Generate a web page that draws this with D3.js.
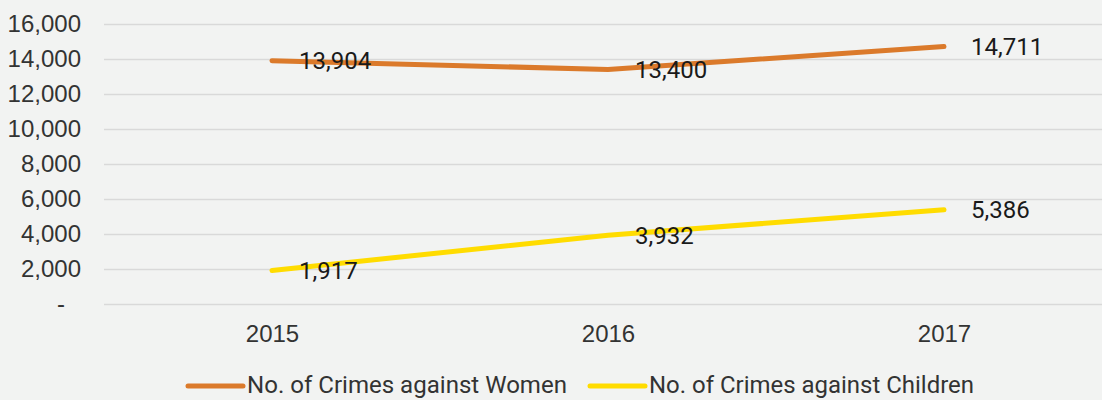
<!DOCTYPE html>
<html>
<head>
<meta charset="utf-8">
<script src="https://cdn.jsdelivr.net/npm/d3@7"></script>
<style>
  body { margin: 0; background: #f2f3f2; }
  svg { display: block; font-family: Roboto, "Noto Sans", sans-serif; }
</style>
</head>
<body>
<div id="chart-area"></div>
<script>
// data
var years = ["2015", "2016", "2017"];
var women = [13904, 13400, 14711];
var children = [1917, 3932, 5386];
var yTicks = [0, 2000, 4000, 6000, 8000, 10000, 12000, 14000, 16000];
var seriesNames = ["No. of Crimes against Women", "No. of Crimes against Children"];
var colors = ["#db7a2b", "#ffdc00"];

var W = 1102, H = 400;
var margin = {left: 104, right: -10, top: 24, bottom: 96},
	width = W - margin.left - margin.right,
	height = H - margin.top - margin.bottom;

var svg = d3.select("#chart-area")
	.append("svg")
		.attr("width", W)
		.attr("height", H);

svg.append("rect").attr("width", W).attr("height", H).attr("fill", "#f2f3f2");

var g = svg.append("g")
	.attr("transform", "translate(" + margin.left + "," + margin.top + ")");

//scales
var x = d3.scalePoint().domain(years).range([0, width]).padding(0.5);
var y = d3.scaleLinear().domain([0, 16000]).range([height, 0]);

var fmt = d3.format(",");

//gridlines + y labels
var yAxis = g.append("g")
	.call(d3.axisLeft(y).tickValues(yTicks).tickSize(-width)
		.tickFormat(d => d === 0 ? "-" : fmt(d)));
yAxis.select(".domain").remove();
yAxis.selectAll(".tick line").attr("stroke", "#d9d9d9").attr("stroke-width", 1.5);
yAxis.selectAll(".tick text")
	.attr("x", -23)
	.attr("fill", "#333")
	.style("font-size", "24px");
yAxis.selectAll(".tick text").filter(d => d === 0).attr("x", -39);

//x labels
var xAxis = g.append("g")
	.attr("transform", "translate(0," + height + ")")
	.call(d3.axisBottom(x).tickSize(0).tickPadding(21));
xAxis.select(".domain").remove();
xAxis.selectAll(".tick text")
	.attr("fill", "#333")
	.style("font-size", "24px");

//lines
var line = d3.line()
	.x((d, i) => x(years[i]))
	.y(d => y(d));

[women, children].forEach((vals, k) => {
	g.append("path")
		.attr("fill", "none")
		.attr("stroke", colors[k])
		.attr("stroke-width", 5)
		.attr("stroke-linecap", "round")
		.attr("d", line(vals));
});

//data labels
[women, children].forEach((vals, k) => {
	g.selectAll(".lbl" + k)
		.data(vals)
		.enter().append("text")
		.attr("x", (d, i) => x(years[i]) + 27)
		.attr("y", d => y(d))
		.attr("dy", "0.35em")
		.attr("fill", "#1a1a1a")
		.style("font-size", "24px")
		.text(d => fmt(d));
});

//legend
var legX = [188, 590], legW = [320, 325];
var legend = svg.append("g");
seriesNames.forEach((name, k) => {
	legend.append("line")
		.attr("x1", legX[k]).attr("x2", legX[k] + 55)
		.attr("y1", 386).attr("y2", 386)
		.attr("stroke", colors[k])
		.attr("stroke-width", 5)
		.attr("stroke-linecap", "round");
	legend.append("text")
		.attr("x", legX[k] + 59)
		.attr("y", 393)
		.attr("fill", "#333")
		.attr("textLength", legW[k])
		.attr("lengthAdjust", "spacingAndGlyphs")
		.style("font-size", "24px")
		.text(name);
});
</script>
</body>
</html>
